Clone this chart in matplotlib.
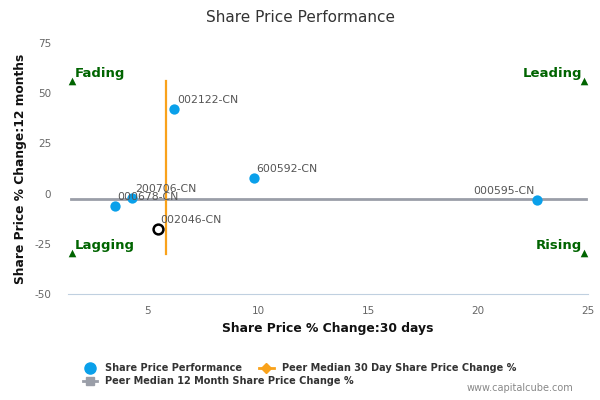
import numpy as np
import matplotlib
matplotlib.use("Agg")
import matplotlib.pyplot as plt
from matplotlib.lines import Line2D

plt.rcParams["axes.unicode_minus"] = False

# data
tickers = ["002122-CN", "600592-CN", "200706-CN", "000678-CN", "000595-CN"]
chg_30d = [6.2, 9.8, 4.3, 3.5, 22.7]
chg_12m = [42.0, 7.7, -2.2, -6.2, -3.2]

own_ticker = "002046-CN"
own_30d = 5.45
own_12m = -17.7

peer_med_30d = 5.8
peer_med_12m = -2.7
med_30d_span = [-30, 56]
med_12m_span = [1.5, 24.9]

quad_names = ["Fading", "Lagging", "Leading", "Rising"]
quad_x = [1.55, 1.55, 24.8, 24.8]
quad_y = [56, -29.6, 56, -29.6]

blue = "#0aa0ea"
orange = "#f9a21b"
gray = "#9a9ea8"
green = "#006400"
txt = "#555555"

fig = plt.figure(figsize=(6, 4), dpi=100)
ax = fig.add_axes([0.113, 0.265, 0.867, 0.6275])

ax.plot(med_12m_span, [peer_med_12m, peer_med_12m], color=gray, lw=2, zorder=2)
ax.plot([peer_med_30d, peer_med_30d], med_30d_span, color=orange, lw=1.6, zorder=2)

ax.scatter(chg_30d, chg_12m, s=55, color=blue, zorder=3, linewidths=0)
ax.scatter([own_30d], [own_12m], s=50, facecolor="white", edgecolor="black", linewidths=1.8, zorder=3)

for t, x, y in zip(tickers, chg_30d, chg_12m):
    if x > 20:
        ax.annotate(t, (x, y), xytext=(-2, 3), textcoords="offset points", ha="right",
                    va="bottom", fontsize=7.8, color=txt, zorder=4)
    else:
        ax.annotate(t, (x, y), xytext=(2, 3), textcoords="offset points", ha="left",
                    va="bottom", fontsize=7.8, color=txt, zorder=4)
ax.annotate(own_ticker, (own_30d, own_12m), xytext=(2, 3), textcoords="offset points",
            ha="left", va="bottom", fontsize=7.8, color=txt, zorder=4)

ax.scatter(quad_x, quad_y, marker="^", s=30, color=green, zorder=3, linewidths=0)
for name, x, y in zip(quad_names, quad_x, quad_y):
    if x < 10:
        ax.annotate(name, (x, y), xytext=(2, 1), textcoords="offset points", ha="left",
                    va="bottom", fontsize=9.5, fontweight="bold", color=green)
    else:
        ax.annotate(name, (x, y), xytext=(-1, 1), textcoords="offset points", ha="right",
                    va="bottom", fontsize=9.5, fontweight="bold", color=green)

ax.set_xlim(1.36, 25)
ax.set_ylim(-50, 75)
ax.set_xticks([5, 10, 15, 20, 25])
ax.set_yticks([-50, -25, 0, 25, 50, 75])
for s in ["top", "right", "left"]:
    ax.spines[s].set_visible(False)
ax.spines["bottom"].set_color("#c0d0e0")
ax.tick_params(axis="both", length=0, labelsize=7.5, colors="#666666")
ax.tick_params(axis="y", pad=12)
ax.tick_params(axis="x", pad=9)

ax.set_xlabel("Share Price % Change:30 days", fontsize=8.9, fontweight="bold", color="#111111")
ax.set_ylabel("Share Price % Change:12 months", fontsize=8.8, fontweight="bold", color="#111111",
              labelpad=5)

fig.suptitle("Share Price Performance", y=0.975, fontsize=11, color="#333333")

h_spp = Line2D([], [], marker="o", ls="none", color=blue, markersize=8)
h_12m = Line2D([], [], marker="s", color=gray, lw=2, markersize=6)
h_30d = Line2D([], [], marker="D", color=orange, lw=2, markersize=5)
leg_kw = dict(loc="center left", frameon=False, prop={"size": 7, "weight": "bold"},
              labelcolor="#333333", handlelength=1.5, borderpad=0, borderaxespad=0)
fig.legend([h_spp], ["Share Price Performance"], bbox_to_anchor=(0.138, 0.08), **leg_kw)
fig.legend([h_30d], ["Peer Median 30 Day Share Price Change %"], bbox_to_anchor=(0.432, 0.08), **leg_kw)
fig.legend([h_12m], ["Peer Median 12 Month Share Price Change %"], bbox_to_anchor=(0.138, 0.0475), **leg_kw)

fig.text(0.955, 0.018, "www.capitalcube.com", ha="right", va="bottom", fontsize=7, color="#888888")

fig.savefig("out.png")
